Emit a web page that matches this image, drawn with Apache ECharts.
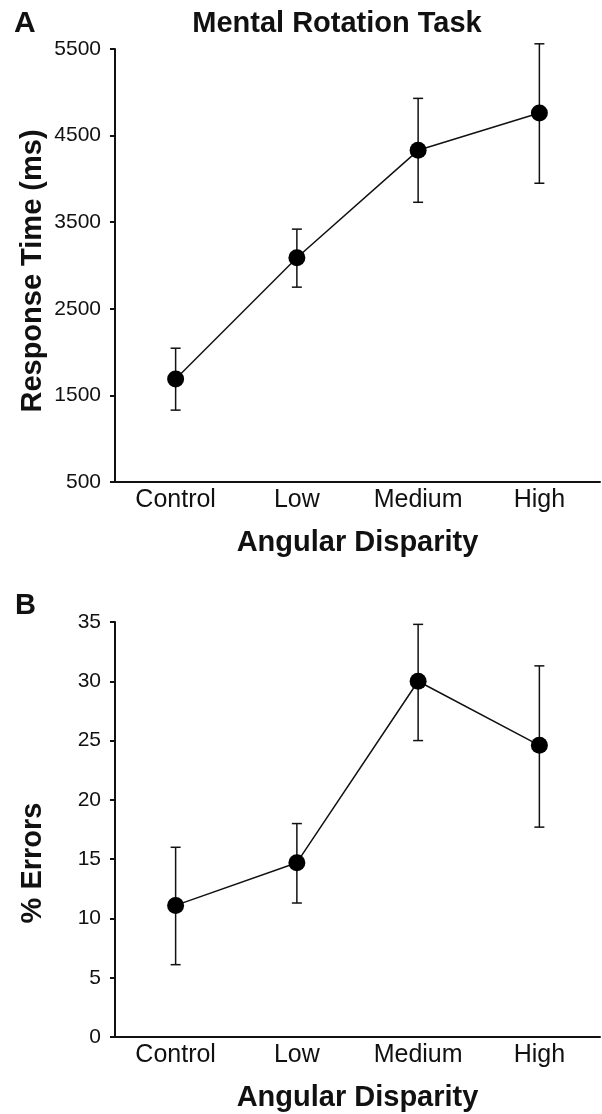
<!DOCTYPE html>
<html>
<head>
<meta charset="utf-8">
<script src="https://cdn.jsdelivr.net/npm/echarts@6/dist/echarts.min.js"></script>
<style>
  html, body { margin: 0; padding: 0; background: #fff; }
  #chart { width: 602px; height: 1114px; }
</style>
</head>
<body>
<div id="chart"></div>
<script>
var categories = ['Control', 'Low', 'Medium', 'High']

// panel A: response time (ms), mean and error bar ends
var rtMean = [1690, 3090, 4330, 4760]
var rtLow = [1330, 2750, 3730, 3950]
var rtHigh = [2045, 3420, 4930, 5560]
var rtTicks = [500, 1500, 2500, 3500, 4500, 5500]

// panel B: % errors
var errMean = [11.1, 14.7, 30.0, 24.6]
var errLow = [6.1, 11.3, 25.0, 17.7]
var errHigh = [16.0, 18.0, 34.8, 31.3]
var errTicks = [0, 5, 10, 15, 20, 25, 30, 35]

var font = 'Liberation Sans, Arial, Helvetica, sans-serif'
var ink = '#111'

function barData(lo, hi) {
  return categories.map(function (c, i) { return [i, lo[i], hi[i]] })
}

function renderBar(params, api) {
  var top = api.coord([api.value(0), api.value(2)])
  var bot = api.coord([api.value(0), api.value(1)])
  var hw = 5
  var st = { stroke: ink, lineWidth: 1.5 }
  return {
    type: 'group',
    children: [
      { type: 'line', shape: { x1: top[0], y1: top[1], x2: bot[0], y2: bot[1] }, style: st },
      { type: 'line', shape: { x1: top[0] - hw, y1: top[1], x2: top[0] + hw, y2: top[1] }, style: st },
      { type: 'line', shape: { x1: bot[0] - hw, y1: bot[1], x2: bot[0] + hw, y2: bot[1] }, style: st }
    ]
  }
}

function xAxis(gridIndex) {
  return {
    type: 'category',
    gridIndex: gridIndex,
    data: categories,
    axisLine: { lineStyle: { color: ink, width: 2 } },
    axisTick: { show: false },
    axisLabel: { color: ink, fontFamily: font, fontSize: 25, margin: 6 },
    name: 'Angular Disparity',
    nameLocation: 'middle',
    nameGap: 46,
    nameTextStyle: { color: ink, fontFamily: font, fontSize: 29, fontWeight: 'bold' }
  }
}

function yAxis(gridIndex, min, max, ticks) {
  return {
    type: 'value',
    gridIndex: gridIndex,
    min: min,
    max: max,
    splitLine: { show: false },
    axisLine: { show: true, lineStyle: { color: ink, width: 2 } },
    axisTick: { show: true, length: 5, customValues: ticks, lineStyle: { color: ink, width: 2 } },
    axisLabel: {
      color: ink, fontFamily: font, fontSize: 21, margin: 14, customValues: ticks,
      formatter: function (v) { return String(v) }
    }
  }
}

var chart = echarts.init(document.getElementById('chart'))

var option = {
  animation: false,
  backgroundColor: '#fff',
  title: {
    text: 'Mental Rotation Task',
    left: 337,
    textAlign: 'center',
    top: 9,
    padding: 0,
    textStyle: { color: ink, fontFamily: font, fontSize: 29, fontWeight: 'bold' }
  },
  grid: [
    { left: 115, right: 2, top: 49, height: 433 },
    { left: 115, right: 2, top: 622, height: 415 }
  ],
  xAxis: [xAxis(0), xAxis(1)],
  yAxis: [yAxis(0, 500, 5500, rtTicks), yAxis(1, 0, 35, errTicks)],
  graphic: [
    { type: 'text', left: 14, top: 9, style: { text: 'A', fill: ink, font: 'bold 30px ' + font } },
    { type: 'text', left: 15, top: 591, style: { text: 'B', fill: ink, font: 'bold 29px ' + font } },
    {
      type: 'text', x: 33, y: 271, rotation: Math.PI / 2,
      style: { text: 'Response Time (ms)', fill: ink, font: 'bold 29px ' + font, textAlign: 'center', textVerticalAlign: 'middle' }
    },
    {
      type: 'text', x: 33, y: 863, rotation: Math.PI / 2,
      style: { text: '% Errors', fill: ink, font: 'bold 29px ' + font, textAlign: 'center', textVerticalAlign: 'middle' }
    }
  ],
  series: [
    {
      type: 'custom', xAxisIndex: 0, yAxisIndex: 0, z: 2,
      renderItem: renderBar, data: barData(rtLow, rtHigh)
    },
    {
      type: 'line', xAxisIndex: 0, yAxisIndex: 0, z: 3,
      data: rtMean, symbol: 'circle', symbolSize: 17,
      itemStyle: { color: '#000' }, lineStyle: { color: ink, width: 1.5 }
    },
    {
      type: 'custom', xAxisIndex: 1, yAxisIndex: 1, z: 2,
      renderItem: renderBar, data: barData(errLow, errHigh)
    },
    {
      type: 'line', xAxisIndex: 1, yAxisIndex: 1, z: 3,
      data: errMean, symbol: 'circle', symbolSize: 17,
      itemStyle: { color: '#000' }, lineStyle: { color: ink, width: 1.5 }
    }
  ]
}

chart.setOption(option)
</script>
</body>
</html>
